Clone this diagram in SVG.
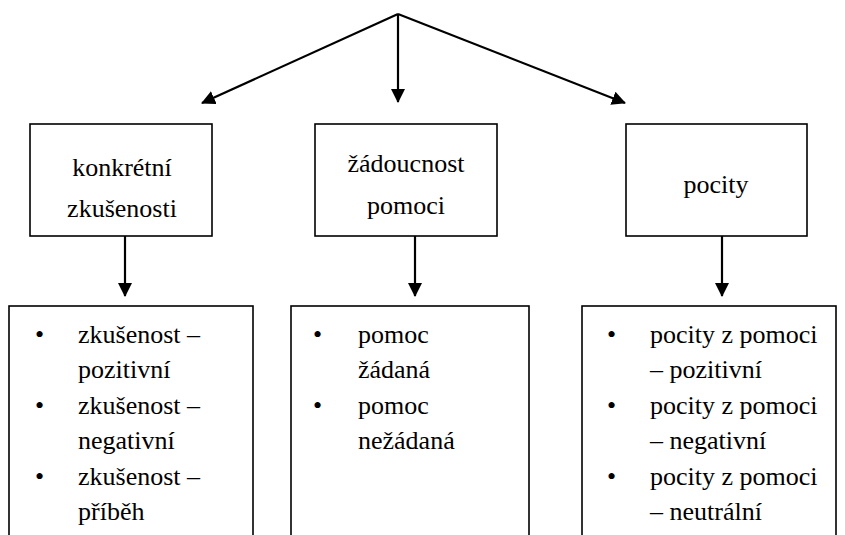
<svg xmlns="http://www.w3.org/2000/svg" width="845" height="535" viewBox="0 0 845 535">
<style>
.box{fill:#fff;stroke:#000;stroke-width:1.6}
.t{font-family:'Liberation Serif','Times New Roman','DejaVu Serif',serif;font-size:26px;fill:#000}
.c{text-anchor:middle}
.con{stroke:#000;stroke-width:2.2;fill:none}
</style>
<defs>
<marker id="ah" markerWidth="14" markerHeight="14" refX="13" refY="7" orient="auto" markerUnits="userSpaceOnUse">
<path d="M0,0 L14,7 L0,14 Z" fill="#000"/>
</marker>
</defs>
<rect width="845" height="535" fill="#fff"/>
<g id="connectors">
<line class="con" x1="398" y1="14" x2="202" y2="103" marker-end="url(#ah)"/>
<line class="con" x1="398" y1="14" x2="398" y2="102" marker-end="url(#ah)"/>
<line class="con" x1="398" y1="14" x2="625" y2="103" marker-end="url(#ah)"/>
<line class="con" x1="125" y1="236" x2="125" y2="296" marker-end="url(#ah)"/>
<line class="con" x1="415" y1="236" x2="415" y2="296" marker-end="url(#ah)"/>
<line class="con" x1="722" y1="236" x2="722" y2="296" marker-end="url(#ah)"/>
</g>
<g id="n1">
<rect class="box" x="30" y="124" width="182" height="112"/>
<text class="t c" font-family="Liberation Serif, serif" x="122" y="176">konkrétní</text>
<text class="t c" font-family="Liberation Serif, serif" x="122" y="217">zkušenosti</text>
</g>
<g id="n2">
<rect class="box" x="315" y="124" width="182" height="112"/>
<text class="t c" font-family="Liberation Serif, serif" x="406" y="172">žádoucnost</text>
<text class="t c" font-family="Liberation Serif, serif" x="406" y="214">pomoci</text>
</g>
<g id="n3">
<rect class="box" x="626" y="124" width="181" height="112"/>
<text class="t c" font-family="Liberation Serif, serif" x="716" y="193">pocity</text>
</g>
<g id="n4">
<rect class="box" x="9" y="306" width="244" height="240"/>
<g class="t" font-family="Liberation Serif, serif">
<text x="35" y="343">•</text><text x="78" y="343">zkušenost –</text>
<text x="78" y="378">pozitivní</text>
<text x="35" y="414">•</text><text x="78" y="414">zkušenost –</text>
<text x="78" y="449">negativní</text>
<text x="35" y="485">•</text><text x="78" y="485">zkušenost –</text>
<text x="78" y="520">příběh</text>
</g>
</g>
<g id="n5">
<rect class="box" x="291" y="306" width="238" height="240"/>
<g class="t" font-family="Liberation Serif, serif">
<text x="313" y="343">•</text><text x="358" y="343">pomoc</text>
<text x="358" y="378">žádaná</text>
<text x="313" y="414">•</text><text x="358" y="414">pomoc</text>
<text x="358" y="449">nežádaná</text>
</g>
</g>
<g id="n6">
<rect class="box" x="582" y="306" width="254" height="240"/>
<g class="t" font-family="Liberation Serif, serif">
<text x="607" y="343">•</text><text x="650" y="343">pocity z pomoci</text>
<text x="650" y="378">– pozitivní</text>
<text x="607" y="414">•</text><text x="650" y="414">pocity z pomoci</text>
<text x="650" y="449">– negativní</text>
<text x="607" y="485">•</text><text x="650" y="485">pocity z pomoci</text>
<text x="650" y="520">– neutrální</text>
</g>
</g>
</svg>
